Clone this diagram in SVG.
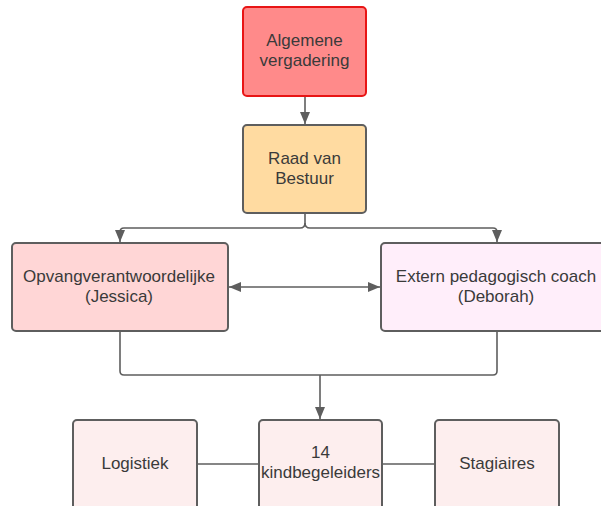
<svg xmlns="http://www.w3.org/2000/svg" width="601" height="506" viewBox="0 0 601 506">
<style>
.n{stroke:#5e5e5e;stroke-width:2}
.t{font-family:"Liberation Sans",Arial,sans-serif;font-size:17px;fill:#3a3a3a;text-anchor:middle;dominant-baseline:central}
.c{fill:none;stroke:#5e5e5e;stroke-width:1.6}
</style>
<defs>
<marker id="a" viewBox="0 0 10 10" refX="10" refY="5" markerWidth="12" markerHeight="10" markerUnits="userSpaceOnUse" orient="auto-start-reverse" preserveAspectRatio="none">
<path d="M0,0 L10,5 L0,10 z" fill="#5e5e5e"/>
</marker>
</defs>
<rect width="601" height="506" fill="#fff"/>
<g id="connectors">
<path class="c" d="M305,97 V124" marker-end="url(#a)"/>
<path class="c" d="M305,214 V223 Q305,228 300,228 H124 Q120,228 120,232 V242" marker-end="url(#a)"/>
<path class="c" d="M305,223 Q305,228 310,228 H493 Q497,228 497,232 V242" marker-end="url(#a)"/>
<path class="c" d="M229,287 H380" marker-start="url(#a)" marker-end="url(#a)"/>
<path class="c" d="M120,332 V371 Q120,375 124,375 H493 Q497,375 497,371 V332"/>
<path class="c" d="M320,375 V419" marker-end="url(#a)"/>
<path class="c" d="M198,464 H258"/>
<path class="c" d="M383,464 H434"/>
</g>
<g id="algemene">
<rect x="243" y="7" width="123" height="89" rx="4" fill="#ff8a8a" stroke="#e81515" stroke-width="2"/>
<text class="t" x="304.5" y="40">Algemene</text>
<text class="t" x="304.5" y="60">vergadering</text>
</g>
<g id="raad">
<rect class="n" x="243" y="125" width="123" height="88" rx="4" fill="#ffdba1"/>
<text class="t" x="304.5" y="158">Raad van</text>
<text class="t" x="304.5" y="178">Bestuur</text>
</g>
<g id="opvang">
<rect class="n" x="12" y="243" width="216" height="88" rx="4" fill="#ffd6d6"/>
<text class="t" x="119" y="276">Opvangverantwoordelijke</text>
<text class="t" x="119" y="296">(Jessica)</text>
</g>
<g id="extern">
<rect class="n" x="381" y="243" width="232" height="88" rx="4" fill="#ffeefa"/>
<text class="t" x="496" y="276">Extern pedagogisch coach</text>
<text class="t" x="496" y="296">(Deborah)</text>
</g>
<g id="logistiek">
<rect class="n" x="73" y="420" width="124" height="100" rx="4" fill="#fdeeee"/>
<text class="t" x="135" y="463">Logistiek</text>
</g>
<g id="kindbegeleiders">
<rect class="n" x="259" y="420" width="123" height="100" rx="4" fill="#fdeeee"/>
<text class="t" x="320.5" y="452">14</text>
<text class="t" x="320.5" y="472">kindbegeleiders</text>
</g>
<g id="stagiaires">
<rect class="n" x="435" y="420" width="124" height="100" rx="4" fill="#fdeeee"/>
<text class="t" x="497" y="463">Stagiaires</text>
</g>
</svg>
